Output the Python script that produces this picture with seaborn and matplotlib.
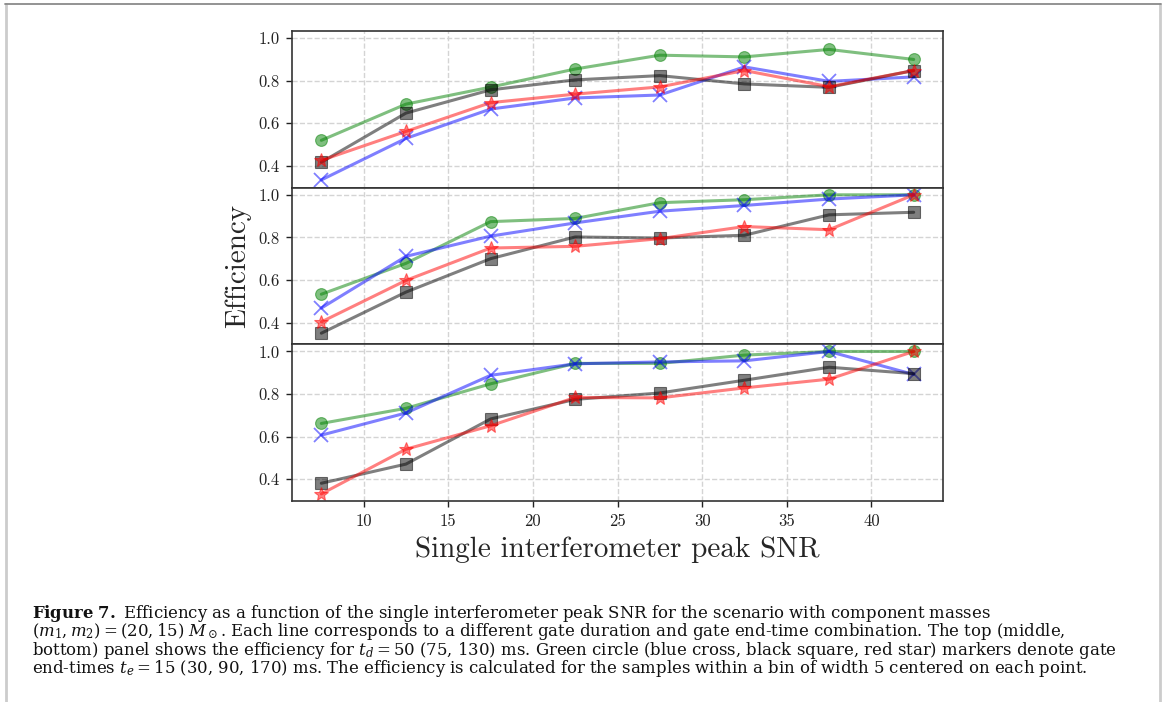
import numpy as np
import pandas as pd
import matplotlib
matplotlib.use("Agg")
import matplotlib.pyplot as plt
from matplotlib.lines import Line2D
import seaborn as sns

# bin centres of the single interferometer peak SNR
snr = [7.5, 12.5, 17.5, 22.5, 27.5, 32.5, 37.5, 42.5]

# top panel, t_d = 50 ms
top_green = [0.52, 0.69, 0.77, 0.855, 0.92, 0.912, 0.947, 0.90]
top_blue = [0.334, 0.529, 0.667, 0.719, 0.733, 0.865, 0.797, 0.818]
top_black = [0.417, 0.648, 0.757, 0.804, 0.824, 0.785, 0.769, 0.848]
top_red = [0.426, 0.562, 0.697, 0.737, 0.771, 0.848, 0.772, 0.848]

# middle panel, t_d = 75 ms
mid_green = [0.533, 0.678, 0.874, 0.889, 0.963, 0.977, 1.0, 1.0]
mid_blue = [0.468, 0.711, 0.806, 0.868, 0.923, 0.950, 0.980, 1.0]
mid_black = [0.35, 0.543, 0.70, 0.802, 0.797, 0.81, 0.906, 0.918]
mid_red = [0.403, 0.598, 0.750, 0.758, 0.794, 0.851, 0.836, 1.0]

# bottom panel, t_d = 130 ms
bot_green = [0.662, 0.733, 0.848, 0.944, 0.944, 0.983, 1.0, 1.0]
bot_blue = [0.607, 0.711, 0.888, 0.942, 0.951, 0.956, 1.0, 0.892]
bot_black = [0.381, 0.471, 0.683, 0.775, 0.805, 0.865, 0.926, 0.896]
bot_red = [0.331, 0.541, 0.651, 0.784, 0.782, 0.829, 0.870, 1.0]

panels = [
    [top_green, top_blue, top_black, top_red],
    [mid_green, mid_blue, mid_black, mid_red],
    [bot_green, bot_blue, bot_black, bot_red],
]
series_colors = ["g", "b", "k", "r"]
series_markers = ["o", "x", "s", "*"]
series_msize = [8.5, 9.5, 8, 10.5]

sns.set_style("whitegrid", {
    "axes.edgecolor": "#333333",
    "grid.color": "#d4d4d4",
    "grid.linestyle": "--",
    "xtick.bottom": True,
    "ytick.left": True,
})
plt.rcParams["font.family"] = ["cmr10", "DejaVu Serif"]
plt.rcParams["mathtext.fontset"] = "cm"
plt.rcParams["xtick.major.size"] = 4
plt.rcParams["ytick.major.size"] = 4
plt.rcParams["xtick.major.width"] = 1
plt.rcParams["ytick.major.width"] = 1
plt.rcParams["xtick.color"] = "#222222"
plt.rcParams["ytick.color"] = "#222222"

fig = plt.figure(figsize=(11.65, 7.02), dpi=100)
axes = fig.subplots(3, 1, sharex=True, sharey=True, gridspec_kw=dict(hspace=0))
fig.subplots_adjust(left=0.2504, right=0.8097, top=0.9558, bottom=0.2863)

for ax, series in zip(axes, panels):
    for vals, c, m, ms in zip(series, series_colors, series_markers, series_msize):
        df = pd.DataFrame({"snr": snr, "eff": vals})
        sns.lineplot(data=df, x="snr", y="eff", color=c, marker=m, markersize=ms,
                     markeredgecolor=c, markeredgewidth=1.3 if m == "x" else 0.8,
                     linewidth=2.2, alpha=0.5, ax=ax)
    ax.set_xlabel("")
    ax.set_ylabel("")
    ax.grid(True, linestyle="--", color="#d4d4d4", linewidth=1)
    for s in ax.spines.values():
        s.set_linewidth(1.2)
        s.set_color("#333333")
    ax.tick_params(axis="y", labelsize=12, pad=4.5, direction="out")
    ax.tick_params(axis="x", labelsize=12, pad=5, direction="out")

axes[0].set_yticks([0.4, 0.6, 0.8, 1.0])
axes[0].set_xticks([10, 15, 20, 25, 30, 35, 40])
for ax in axes[:2]:
    ax.tick_params(axis="x", bottom=False, labelbottom=False)

fig.text(238 / 1165, 1 - 266 / 702, "Efficiency", rotation=90, fontsize=21,
         ha="center", va="center")
fig.text(617.5 / 1165, 1 - 556.7 / 702, "Single interferometer peak SNR", fontsize=21,
         ha="center", va="baseline")

# page frame
fig.add_artist(Line2D([6 / 1165, 6 / 1165], [0, 1 - 4 / 702], transform=fig.transFigure,
                      color="#cccccc", lw=2))
fig.add_artist(Line2D([1160 / 1165, 1160 / 1165], [0, 1 - 4 / 702], transform=fig.transFigure,
                      color="#cccccc", lw=2))
fig.add_artist(Line2D([5 / 1165, 1161 / 1165], [1 - 4 / 702, 1 - 4 / 702],
                      transform=fig.transFigure, color="#8a8a8a", lw=1.3))

# caption, one text block so the lines keep even spacing
cap_lines = [
    r"$\mathbf{Figure\ 7.}$ Efficiency as a function of the single interferometer peak SNR for the scenario with component masses",
    r"$(m_1, m_2) = (20, 15)\ M_\odot$. Each line corresponds to a different gate duration and gate end-time combination. The top (middle,",
    r"bottom) panel shows the efficiency for $t_d = 50$ (75, 130) ms. Green circle (blue cross, black square, red star) markers denote gate",
    r"end-times $t_e = 15$ (30, 90, 170) ms. The efficiency is calculated for the samples within a bin of width 5 centered on each point.",
]
fig.text(32 / 1165, 1 - 603 / 702, "\n".join(cap_lines), family="DejaVu Serif",
         fontsize=11.9, math_fontfamily="dejavuserif", color="#111111",
         va="top", ha="left", linespacing=0.82)

fig.savefig("out.png", dpi=100)
